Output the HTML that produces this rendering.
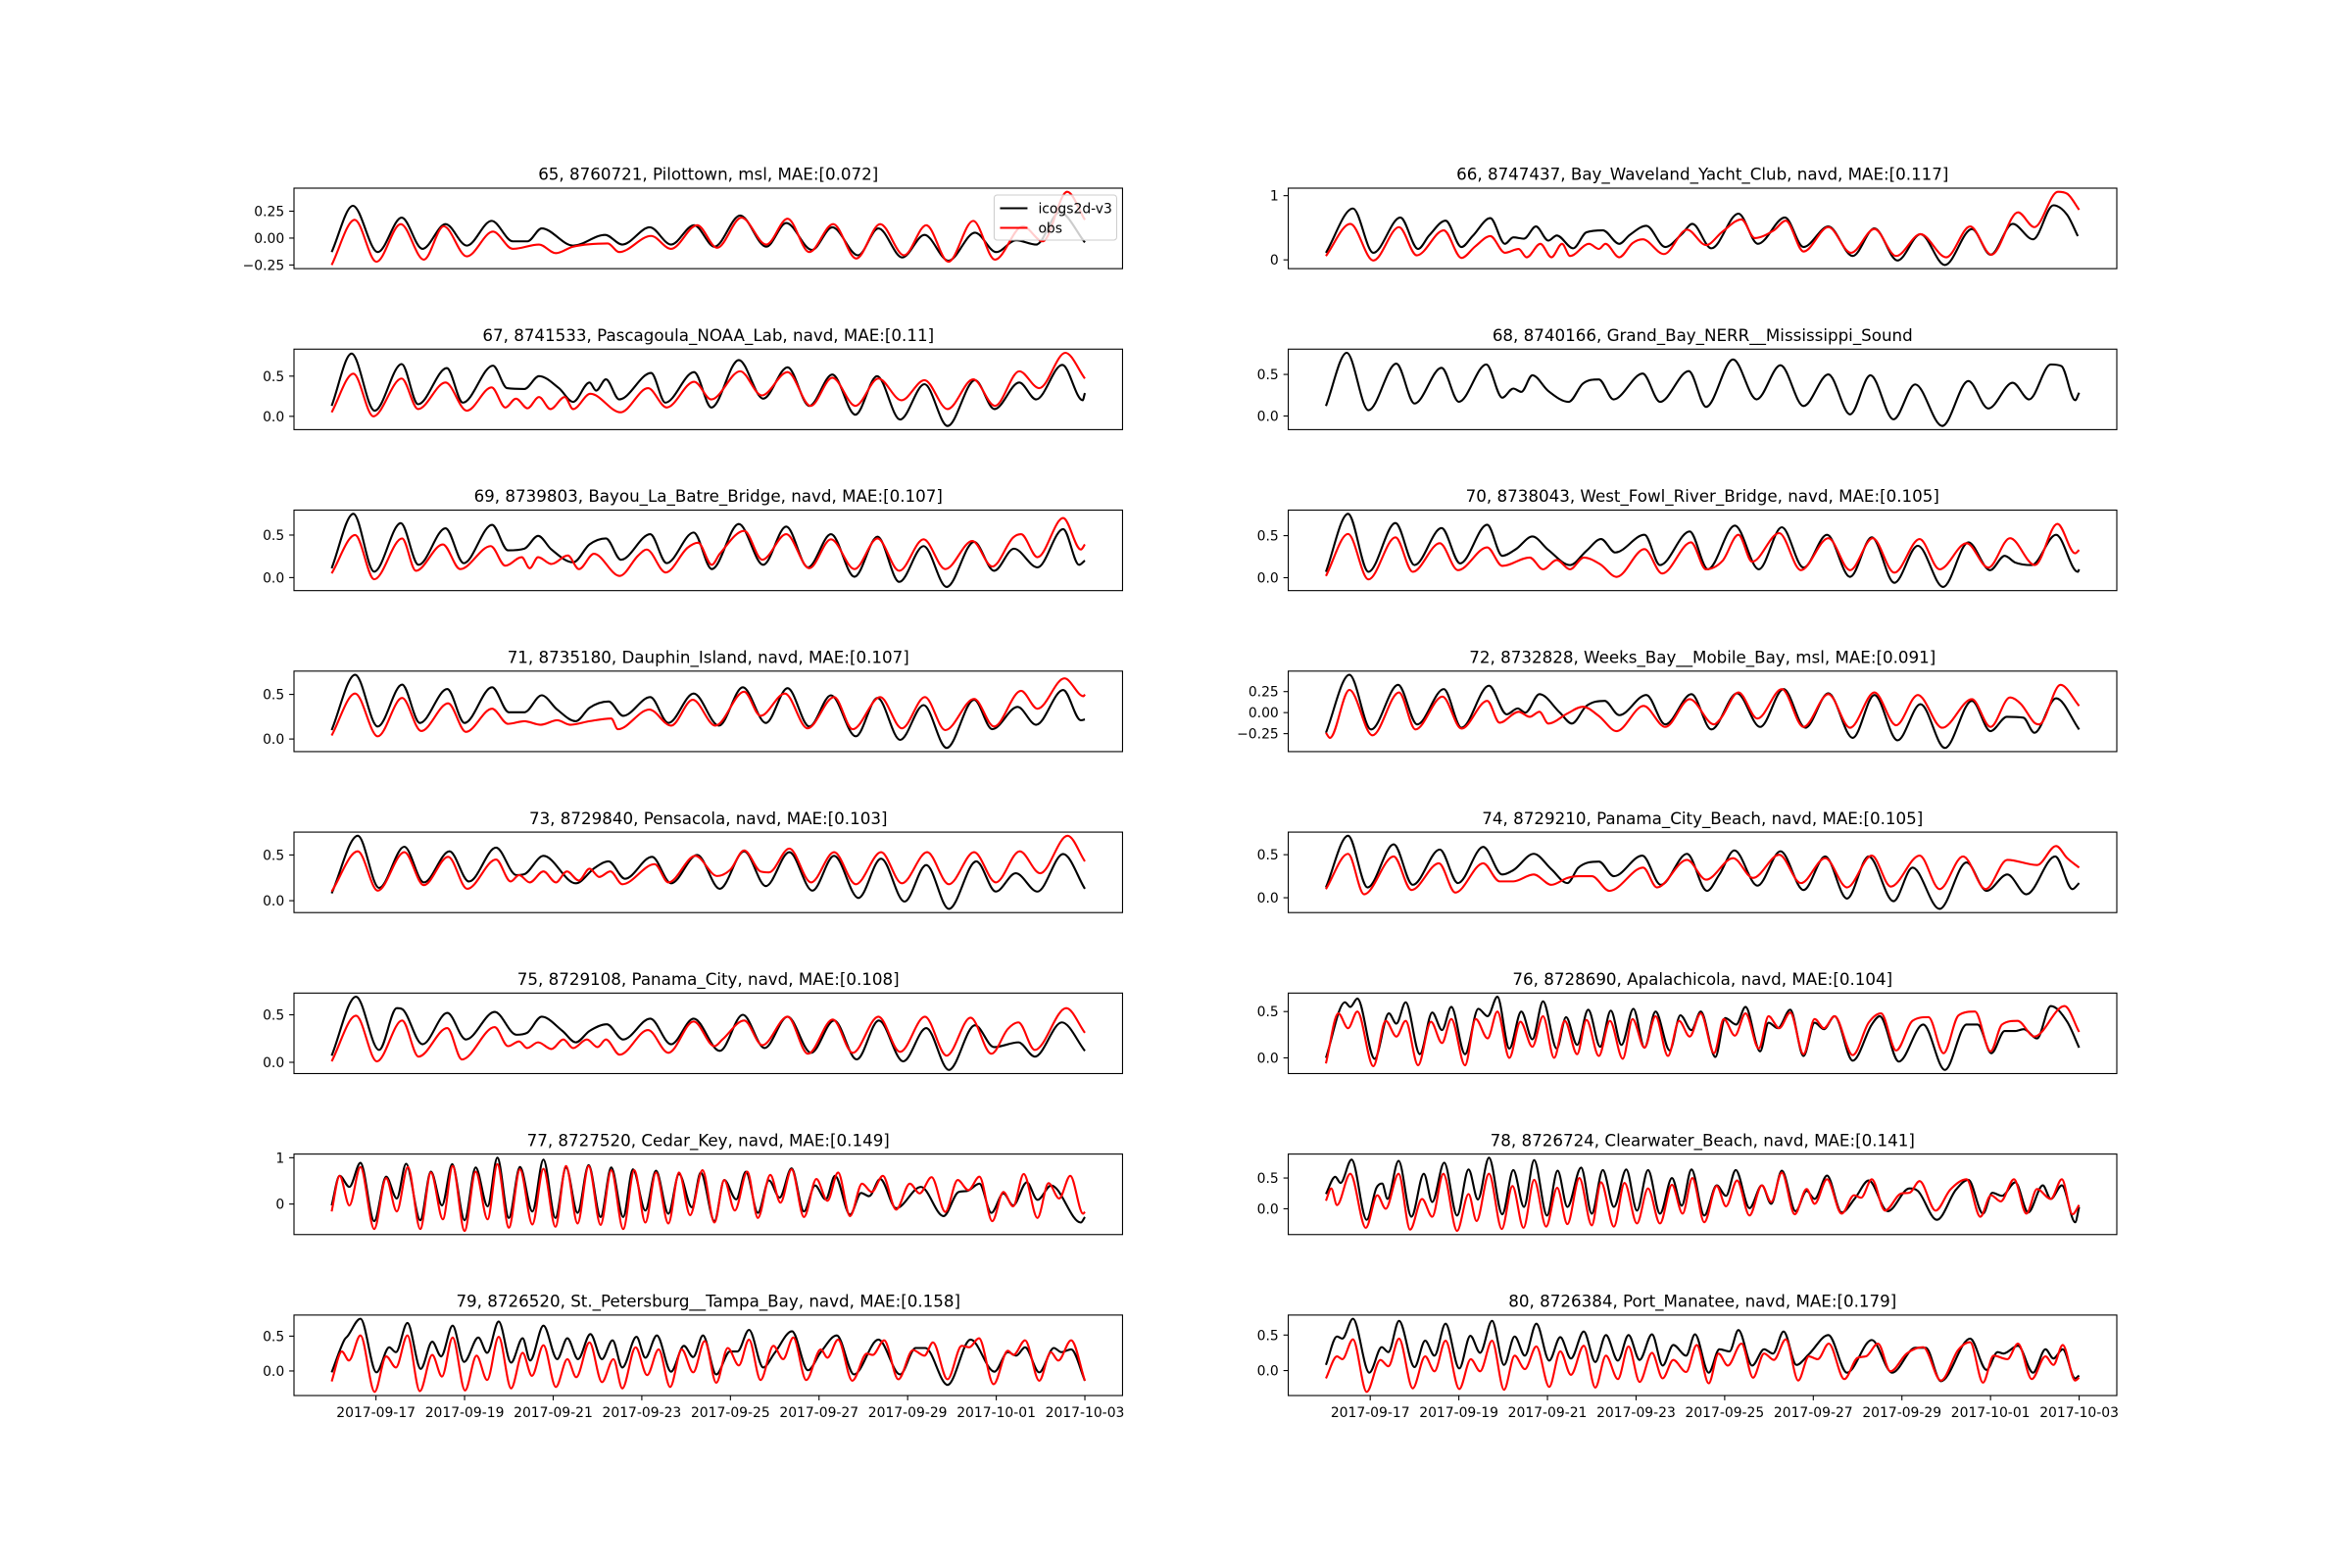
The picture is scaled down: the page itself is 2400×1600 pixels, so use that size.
<!DOCTYPE html>
<html><head><meta charset="utf-8"><title>Water level comparison</title>
<style>
html,body{margin:0;padding:0;background:#fff;}
svg{display:block;font-family:"DejaVu Sans","Liberation Sans",sans-serif;}
</style></head>
<body>
<svg id="fig" width="2400" height="1600" viewBox="0 0 2400 1600" xmlns="http://www.w3.org/2000/svg">
<rect x="0" y="0" width="2400" height="1600" fill="#fff"/>
</svg>
<script>
// ---- data (time in days since 2017-09-16 00:00, values in metres) ----
const DATE_TICK_DAYS = [1,3,5,7,9,11,13,15,17];
const DATE_TICK_LABELS = ["2017-09-17","2017-09-19","2017-09-21","2017-09-23","2017-09-25","2017-09-27","2017-09-29","2017-10-01","2017-10-03"];

const P65_TITLE = "65, 8760721, Pilottown, msl, MAE:[0.072]";
const P65_YTICKS = [-0.25,0,0.25];
const P65_YLABELS = ["\u22120.25","0.00","0.25"];
const P65_MODEL_T = [0,0.48,1.04,1.58,2.05,2.57,3.05,3.61,4.09,4.42,4.74,5.45,6.17,6.56,7.18,7.66,8.18,8.64,9.22,9.81,10.26,10.84,11.3,11.88,12.34,12.88,13.38,13.92,14.52,15.0,15.45,15.9,16.43,17];
const P65_MODEL_V = [-0.13,0.30,-0.13,0.19,-0.10,0.13,-0.07,0.16,-0.03,-0.03,0.09,-0.07,0.03,-0.06,0.10,-0.06,0.12,-0.08,0.21,-0.08,0.14,-0.11,0.10,-0.16,0.09,-0.18,0.03,-0.21,0.05,-0.13,-0.02,-0.06,0.24,-0.04];
const P65_OBS_T = [0,0.52,1.01,1.56,2.08,2.53,3.05,3.64,4.09,4.68,5.06,5.45,6.23,6.49,7.21,7.66,8.25,8.7,9.25,9.81,10.29,10.78,11.32,11.84,12.38,12.92,13.42,13.92,14.48,14.97,15.6,16.05,16.6,17];
const P65_OBS_V = [-0.25,0.17,-0.22,0.13,-0.20,0.11,-0.17,0.06,-0.10,-0.06,-0.14,-0.08,-0.05,-0.13,0.02,-0.10,0.12,-0.09,0.19,-0.06,0.18,-0.13,0.13,-0.19,0.13,-0.16,0.12,-0.22,0.16,-0.20,0.11,-0.03,0.43,0.17];

const P66_TITLE = "66, 8747437, Bay_Waveland_Yacht_Club, navd, MAE:[0.117]";
const P66_YTICKS = [0,1];
const P66_YLABELS = ["0","1"];
const P66_MODEL_T = [0,0.61,1.07,1.68,2.08,2.33,2.7,3.06,3.31,3.71,4.04,4.23,4.47,4.74,5.02,5.21,5.58,5.88,6.25,6.62,6.86,7.23,7.66,8.03,8.27,8.7,9.31,9.75,10.36,10.78,11.34,11.89,12.38,12.9,13.42,13.97,14.58,15.0,15.5,15.96,16.42,16.73,16.97];
const P66_MODEL_V = [0.11,0.80,0.11,0.66,0.17,0.38,0.61,0.20,0.37,0.65,0.25,0.35,0.33,0.52,0.30,0.38,0.18,0.43,0.46,0.25,0.39,0.53,0.20,0.40,0.56,0.18,0.72,0.25,0.66,0.20,0.52,0.06,0.49,-0.01,0.40,-0.08,0.48,0.08,0.56,0.32,0.85,0.70,0.37];
const P66_OBS_T = [0,0.55,1.07,1.65,2.05,2.66,3.06,3.37,3.71,4.04,4.35,4.53,4.84,5.09,5.33,5.51,5.94,6.16,6.31,6.62,6.92,7.15,7.63,8.15,8.58,8.95,9.38,9.68,10.11,10.38,10.78,11.34,11.85,12.38,12.87,13.42,14.0,14.54,15.02,15.62,15.99,16.52,16.73,17];
const P66_OBS_V = [0.06,0.56,-0.01,0.51,0.07,0.46,0.03,0.21,0.37,0.11,0.17,0.04,0.25,0.04,0.25,0.06,0.25,0.17,0.25,0.04,0.26,0.32,0.09,0.47,0.23,0.44,0.63,0.34,0.46,0.61,0.13,0.51,0.11,0.48,0.06,0.40,0.04,0.52,0.08,0.74,0.51,1.06,1.03,0.78];

const P67_TITLE = "67, 8741533, Pascagoula_NOAA_Lab, navd, MAE:[0.11]";
const P67_YTICKS = [0,0.5];
const P67_YLABELS = ["0.0","0.5"];
const P67_MODEL_T = [0,0.45,0.97,1.58,1.95,2.6,2.96,3.64,3.96,4.35,4.68,5.13,5.45,5.82,5.97,6.19,6.49,7.21,7.53,8.18,8.57,9.19,9.74,10.29,10.78,11.3,11.82,12.31,12.83,13.38,13.9,14.52,14.96,15.52,15.9,16.49,16.95,17];
const P67_MODEL_V = [0.13,0.78,0.07,0.65,0.15,0.60,0.17,0.63,0.35,0.34,0.50,0.35,0.18,0.42,0.32,0.46,0.21,0.54,0.17,0.55,0.11,0.70,0.22,0.61,0.13,0.52,0.02,0.50,-0.04,0.40,-0.12,0.45,0.09,0.42,0.21,0.64,0.20,0.29];
const P67_OBS_T = [0,0.49,0.94,1.58,1.95,2.57,3.05,3.61,3.92,4.16,4.42,4.68,4.94,5.26,5.45,5.84,6.52,7.14,7.56,8.18,8.57,9.22,9.71,10.29,10.81,11.3,11.82,12.34,12.86,13.38,13.9,14.48,14.97,15.52,15.97,16.56,17];
const P67_OBS_V = [0.05,0.53,0.0,0.47,0.09,0.42,0.07,0.36,0.11,0.22,0.10,0.24,0.09,0.24,0.09,0.28,0.05,0.35,0.11,0.43,0.21,0.56,0.26,0.55,0.13,0.48,0.13,0.47,0.20,0.45,0.09,0.46,0.13,0.56,0.35,0.79,0.47];

const P68_TITLE = "68, 8740166, Grand_Bay_NERR__Mississippi_Sound";
const P68_YTICKS = [0,0.5];
const P68_YLABELS = ["0.0","0.5"];
const P68_MODEL_T = [0,0.47,0.96,1.59,2.0,2.61,3.0,3.62,3.98,4.23,4.41,4.66,5.02,5.48,5.8,6.16,6.49,7.15,7.54,8.19,8.58,9.19,9.72,10.26,10.78,11.34,11.83,12.29,12.81,13.3,13.91,14.5,14.95,15.5,15.87,16.36,16.6,16.91,17];
const P68_MODEL_V = [0.12,0.76,0.07,0.63,0.15,0.58,0.17,0.62,0.22,0.33,0.29,0.49,0.30,0.17,0.39,0.44,0.20,0.51,0.17,0.54,0.11,0.68,0.20,0.61,0.12,0.50,0.02,0.49,-0.04,0.38,-0.12,0.42,0.09,0.40,0.20,0.62,0.60,0.19,0.28];
const P68_OBS_T = [];
const P68_OBS_V = [];

const P69_TITLE = "69, 8739803, Bayou_La_Batre_Bridge, navd, MAE:[0.107]";
const P69_YTICKS = [0,0.5];
const P69_YLABELS = ["0.0","0.5"];
const P69_MODEL_T = [0,0.49,0.96,1.56,1.96,2.57,2.98,3.62,3.98,4.35,4.66,4.96,5.45,5.82,6.19,6.53,7.19,7.56,8.17,8.58,9.19,9.74,10.26,10.75,11.27,11.8,12.32,12.81,13.36,13.88,14.5,14.95,15.4,15.93,16.51,16.87,17];
const P69_MODEL_V = [0.11,0.75,0.07,0.64,0.15,0.58,0.17,0.62,0.32,0.34,0.49,0.33,0.18,0.39,0.46,0.21,0.51,0.17,0.53,0.10,0.63,0.15,0.60,0.12,0.51,0.01,0.48,-0.05,0.37,-0.11,0.42,0.08,0.34,0.12,0.57,0.15,0.20];
const P69_OBS_T = [0,0.53,0.96,1.59,1.9,2.51,2.9,3.59,3.92,4.29,4.47,4.66,4.96,5.33,5.58,5.92,6.5,6.92,7.11,7.54,8.03,8.27,8.58,8.76,9.31,9.72,10.26,10.78,11.27,11.8,12.32,12.81,13.36,13.85,14.46,14.91,15.38,15.56,15.93,16.51,16.91,17];
const P69_OBS_V = [0.05,0.50,-0.02,0.46,0.08,0.39,0.10,0.37,0.14,0.24,0.11,0.24,0.16,0.26,0.10,0.28,0.02,0.26,0.33,0.06,0.35,0.41,0.15,0.28,0.55,0.21,0.51,0.11,0.45,0.10,0.46,0.08,0.45,0.10,0.43,0.13,0.47,0.51,0.24,0.70,0.33,0.39];

const P70_TITLE = "70, 8738043, West_Fowl_River_Bridge, navd, MAE:[0.105]";
const P70_YTICKS = [0,0.5];
const P70_YLABELS = ["0.0","0.5"];
const P70_MODEL_T = [0,0.5,0.96,1.57,2.0,2.61,3.03,3.64,3.98,4.29,4.66,5.02,5.51,5.88,6.21,6.53,7.19,7.54,8.21,8.62,9.23,9.77,10.29,10.78,11.31,11.83,12.32,12.83,13.36,13.93,14.5,14.99,15.32,15.56,15.93,16.48,16.97,17];
const P70_MODEL_V = [0.07,0.76,0.07,0.65,0.15,0.59,0.17,0.63,0.26,0.34,0.49,0.33,0.15,0.32,0.46,0.30,0.51,0.15,0.55,0.10,0.62,0.10,0.60,0.12,0.51,0.01,0.48,-0.06,0.38,-0.11,0.42,0.09,0.26,0.18,0.15,0.51,0.07,0.10];
const P70_OBS_T = [0,0.5,0.96,1.57,1.96,2.57,2.98,3.64,3.98,4.6,4.9,5.21,5.51,5.82,6.19,6.56,7.19,7.59,8.24,8.58,8.95,9.31,9.62,10.23,10.72,11.34,11.83,12.34,12.83,13.4,13.85,14.46,14.95,15.44,16.0,16.51,16.91,17];
const P70_OBS_V = [0.02,0.52,-0.02,0.48,0.07,0.41,0.09,0.36,0.14,0.24,0.10,0.21,0.10,0.24,0.16,0.01,0.34,0.05,0.42,0.10,0.20,0.51,0.19,0.53,0.09,0.47,0.09,0.47,0.06,0.46,0.10,0.41,0.12,0.47,0.15,0.64,0.29,0.33];

const P71_TITLE = "71, 8735180, Dauphin_Island, navd, MAE:[0.107]";
const P71_YTICKS = [0,0.5];
const P71_YLABELS = ["0.0","0.5"];
const P71_MODEL_T = [0,0.53,1.04,1.59,1.99,2.61,3.0,3.62,4.0,4.35,4.74,5.09,5.51,5.82,6.25,6.58,7.19,7.6,8.17,8.74,9.28,9.8,10.29,10.78,11.27,11.83,12.32,12.83,13.36,13.88,14.5,14.91,15.48,15.9,16.51,16.91,17];
const P71_MODEL_V = [0.10,0.72,0.14,0.61,0.18,0.56,0.18,0.58,0.30,0.30,0.49,0.33,0.20,0.35,0.42,0.26,0.47,0.18,0.51,0.15,0.58,0.18,0.57,0.14,0.49,0.03,0.46,-0.01,0.38,-0.10,0.44,0.11,0.36,0.16,0.55,0.21,0.22];
const P71_OBS_T = [0,0.53,1.04,1.59,2.02,2.63,3.03,3.62,3.98,4.35,4.72,5.09,5.39,5.82,6.31,6.46,7.17,7.66,8.15,8.66,9.31,9.68,10.23,10.74,11.34,11.76,12.38,12.87,13.39,13.85,14.5,14.95,15.56,15.93,16.54,16.97,17];
const P71_OBS_V = [0.04,0.51,0.03,0.46,0.09,0.40,0.08,0.34,0.17,0.20,0.16,0.21,0.16,0.20,0.23,0.11,0.33,0.15,0.44,0.15,0.53,0.26,0.51,0.12,0.47,0.11,0.47,0.12,0.47,0.10,0.45,0.14,0.54,0.34,0.68,0.48,0.50];

const P72_TITLE = "72, 8732828, Weeks_Bay__Mobile_Bay, msl, MAE:[0.091]";
const P72_YTICKS = [-0.25,0,0.25];
const P72_YLABELS = ["\u22120.25","0.00","0.25"];
const P72_MODEL_T = [0,0.53,1.02,1.63,2.06,2.66,3.06,3.68,4.08,4.33,4.5,4.82,5.28,5.55,5.88,6.29,6.62,7.23,7.66,8.25,8.7,9.28,9.8,10.33,10.82,11.34,11.89,12.38,12.9,13.42,13.97,14.58,15.0,15.37,15.74,15.99,16.48,17];
const P72_MODEL_V = [-0.24,0.45,-0.20,0.33,-0.14,0.28,-0.18,0.32,-0.02,0.05,0.0,0.22,0.0,-0.13,0.08,0.14,-0.03,0.21,-0.14,0.22,-0.20,0.23,-0.17,0.28,-0.18,0.23,-0.30,0.21,-0.33,0.10,-0.42,0.14,-0.22,-0.05,-0.06,-0.24,0.17,-0.20];
const P72_OBS_T = [0,0.09,0.53,1.05,1.65,2.02,2.63,3.06,3.64,3.92,4.35,4.6,4.82,5.02,5.45,5.8,6.16,6.56,7.17,7.66,8.21,8.76,8.91,9.31,9.74,10.29,10.78,11.34,11.83,12.38,12.87,13.36,13.91,14.58,15.0,15.44,15.69,15.99,16.1,16.58,17];
const P72_OBS_V = [-0.24,-0.30,0.27,-0.27,0.24,-0.20,0.19,-0.19,0.14,-0.12,0.01,-0.05,0.01,-0.13,-0.01,0.07,-0.04,-0.22,0.08,-0.17,0.16,-0.14,-0.07,0.24,-0.07,0.28,-0.17,0.22,-0.18,0.24,-0.15,0.21,-0.18,0.16,-0.17,0.18,0.10,-0.12,-0.14,0.33,0.08];

const P73_TITLE = "73, 8729840, Pensacola, navd, MAE:[0.103]";
const P73_YTICKS = [0,0.5];
const P73_YLABELS = ["0.0","0.5"];
const P73_MODEL_T = [0,0.59,1.07,1.64,2.08,2.66,3.1,3.71,4.17,4.35,4.78,5.51,5.94,6.25,6.62,7.23,7.66,8.25,8.76,9.31,9.8,10.33,10.85,11.34,11.89,12.4,12.93,13.42,13.93,14.55,14.99,15.44,15.93,16.51,17];
const P73_MODEL_V = [0.08,0.71,0.14,0.59,0.20,0.54,0.21,0.58,0.28,0.29,0.49,0.19,0.36,0.43,0.24,0.48,0.19,0.50,0.13,0.54,0.16,0.53,0.11,0.49,0.03,0.46,-0.01,0.39,-0.09,0.43,0.10,0.30,0.10,0.51,0.13];
const P73_OBS_T = [0,0.59,1.04,1.64,2.08,2.63,3.06,3.71,4.04,4.23,4.47,4.78,5.06,5.31,5.58,5.82,6.04,6.29,6.56,7.29,7.6,8.21,8.7,9.0,9.31,9.68,9.87,10.33,10.82,11.34,11.83,12.4,12.87,13.44,13.93,14.5,14.99,15.53,15.99,16.61,17];
const P73_OBS_V = [0.10,0.54,0.11,0.53,0.17,0.48,0.13,0.45,0.21,0.28,0.20,0.32,0.20,0.32,0.22,0.35,0.26,0.32,0.18,0.40,0.20,0.49,0.27,0.34,0.55,0.32,0.31,0.57,0.20,0.53,0.18,0.53,0.19,0.53,0.18,0.53,0.20,0.54,0.30,0.71,0.43];

const P74_TITLE = "74, 8729210, Panama_City_Beach, navd, MAE:[0.105]";
const P74_YTICKS = [0,0.5];
const P74_YLABELS = ["0.0","0.5"];
const P74_MODEL_T = [0,0.5,0.94,1.53,1.96,2.57,2.98,3.55,3.98,4.23,4.69,5.09,5.45,5.7,6.16,6.5,7.14,7.56,8.15,8.6,8.88,9.22,9.74,10.26,10.78,11.27,11.76,12.25,12.81,13.24,13.85,14.46,14.91,15.38,15.81,16.46,16.85,17];
const P74_MODEL_V = [0.12,0.72,0.12,0.62,0.15,0.56,0.17,0.59,0.27,0.32,0.51,0.33,0.17,0.35,0.42,0.25,0.49,0.15,0.51,0.08,0.27,0.55,0.14,0.54,0.09,0.48,-0.01,0.48,-0.04,0.35,-0.13,0.41,0.08,0.27,0.04,0.48,0.10,0.17];
const P74_OBS_T = [0,0.5,0.86,1.53,1.93,2.55,2.92,3.55,3.92,4.23,4.69,5.09,5.45,5.7,6.0,6.4,7.16,7.47,8.15,8.58,9.19,9.64,10.23,10.72,11.27,11.76,12.32,12.75,13.4,13.85,14.38,14.89,15.38,16.05,16.48,16.73,17];
const P74_OBS_V = [0.10,0.51,0.04,0.48,0.09,0.40,0.06,0.40,0.19,0.19,0.27,0.15,0.23,0.25,0.25,0.08,0.35,0.12,0.44,0.21,0.46,0.23,0.50,0.17,0.46,0.12,0.49,0.13,0.49,0.10,0.48,0.10,0.44,0.38,0.60,0.46,0.35];

const P75_TITLE = "75, 8729108, Panama_City, navd, MAE:[0.108]";
const P75_YTICKS = [0,0.5];
const P75_YLABELS = ["0.0","0.5"];
const P75_MODEL_T = [0,0.55,1.07,1.47,1.59,2.05,2.61,3.03,3.68,4.17,4.41,4.74,5.21,5.51,5.82,6.21,6.58,7.19,7.66,8.17,8.76,9.28,9.77,10.29,10.82,11.34,11.85,12.35,12.9,13.42,13.93,14.52,14.95,15.5,15.87,16.48,17];
const P75_MODEL_V = [0.07,0.69,0.13,0.57,0.56,0.19,0.52,0.24,0.53,0.29,0.31,0.48,0.33,0.21,0.33,0.40,0.24,0.46,0.19,0.46,0.12,0.50,0.15,0.48,0.10,0.44,0.03,0.44,0.01,0.36,-0.08,0.39,0.16,0.21,0.06,0.42,0.12];
const P75_OBS_T = [0,0.55,1.02,1.59,1.96,2.61,2.94,3.68,3.98,4.23,4.41,4.66,4.96,5.23,5.45,5.76,6.0,6.19,6.5,7.14,7.6,8.17,8.64,8.82,9.31,9.72,10.29,10.75,11.31,11.76,12.34,12.83,13.39,13.88,14.42,14.89,15.26,15.5,15.87,16.58,17];
const P75_OBS_V = [0.01,0.49,0.01,0.44,0.06,0.36,0.03,0.37,0.17,0.22,0.15,0.21,0.14,0.24,0.15,0.24,0.16,0.24,0.08,0.34,0.10,0.43,0.17,0.24,0.44,0.18,0.48,0.09,0.45,0.10,0.48,0.11,0.48,0.07,0.47,0.09,0.35,0.42,0.13,0.57,0.31];

const P76_TITLE = "76, 8728690, Apalachicola, navd, MAE:[0.104]";
const P76_YTICKS = [0,0.5];
const P76_YLABELS = ["0.0","0.5"];
const P76_MODEL_T = [0,0.43,0.55,0.71,1.1,1.42,1.59,1.8,2.12,2.4,2.62,2.83,3.14,3.44,3.65,3.87,4.14,4.41,4.66,4.9,5.21,5.42,5.67,5.92,6.19,6.43,6.67,6.94,7.19,7.44,7.76,8.0,8.25,8.46,8.79,9.01,9.26,9.47,9.8,9.99,10.2,10.48,10.78,11.03,11.24,11.48,11.89,12.32,12.5,12.93,13.48,13.97,14.46,14.71,15.02,15.32,15.56,15.75,16.05,16.36,16.73,17];
const P76_MODEL_V = [0.0,0.60,0.55,0.64,-0.01,0.48,0.37,0.60,0.04,0.49,0.30,0.55,0.04,0.53,0.45,0.66,0.10,0.50,0.20,0.61,0.10,0.44,0.14,0.52,0.12,0.51,0.14,0.53,0.11,0.50,0.08,0.46,0.30,0.50,0.01,0.43,0.36,0.55,0.07,0.38,0.32,0.52,0.02,0.38,0.31,0.45,-0.03,0.36,0.45,-0.04,0.36,-0.13,0.36,0.36,0.05,0.29,0.29,0.31,0.21,0.56,0.39,0.11];
const P76_OBS_T = [0,0.28,0.5,0.71,1.07,1.35,1.59,1.8,2.08,2.37,2.62,2.83,3.14,3.38,3.65,3.87,4.14,4.39,4.66,4.9,5.15,5.39,5.67,5.88,6.16,6.41,6.7,6.92,7.19,7.44,7.72,7.97,8.21,8.46,8.76,8.98,9.23,9.47,9.77,9.99,10.23,10.48,10.78,11.03,11.24,11.48,11.89,12.25,12.53,12.87,13.24,13.6,13.94,14.28,14.65,15.0,15.26,15.61,15.99,16.67,17];
const P76_OBS_V = [-0.06,0.48,0.32,0.50,-0.09,0.40,0.23,0.40,-0.08,0.39,0.16,0.42,-0.08,0.42,0.21,0.50,0.0,0.39,0.12,0.45,0.0,0.40,0.04,0.41,0.02,0.40,-0.01,0.42,0.11,0.45,0.02,0.40,0.23,0.48,0.05,0.42,0.24,0.48,0.10,0.45,0.32,0.49,0.04,0.42,0.32,0.45,0.03,0.38,0.48,0.08,0.40,0.44,0.05,0.46,0.50,0.07,0.36,0.40,0.23,0.56,0.28];

const P77_TITLE = "77, 8727520, Cedar_Key, navd, MAE:[0.149]";
const P77_YTICKS = [0,1];
const P77_YLABELS = ["0","1"];
const P77_MODEL_T = [0,0.18,0.4,0.65,0.96,1.23,1.47,1.68,2.0,2.24,2.49,2.72,3.0,3.25,3.52,3.74,4.0,4.25,4.53,4.78,5.05,5.29,5.55,5.8,6.07,6.31,6.58,6.8,7.08,7.32,7.6,7.84,8.13,8.33,8.64,8.86,9.13,9.35,9.62,9.87,10.11,10.38,10.66,10.91,11.15,11.36,11.7,11.95,12.13,12.38,12.74,13.3,13.81,14.15,14.34,14.62,14.89,15.16,15.38,15.69,15.93,16.24,16.91,17];
const P77_MODEL_V = [-0.03,0.61,0.37,0.89,-0.37,0.59,0.12,0.87,-0.35,0.70,-0.03,0.86,-0.35,0.79,-0.05,1.0,-0.30,0.80,-0.16,0.96,-0.30,0.79,-0.19,0.84,-0.28,0.79,-0.28,0.75,-0.14,0.72,-0.21,0.65,-0.07,0.68,-0.37,0.52,0.10,0.70,-0.19,0.51,0.14,0.77,-0.16,0.40,0.10,0.61,-0.23,0.24,0.17,0.54,-0.09,0.37,-0.26,0.26,0.28,0.44,-0.19,0.23,-0.03,0.47,0.09,0.40,-0.40,-0.28];
const P77_OBS_T = [0,0.18,0.4,0.65,0.96,1.23,1.47,1.72,2.0,2.24,2.51,2.73,3.0,3.25,3.52,3.74,4.0,4.25,4.53,4.78,5.05,5.29,5.55,5.8,6.07,6.31,6.58,6.83,7.08,7.32,7.6,7.84,8.09,8.37,8.64,8.86,9.1,9.38,9.62,9.9,10.13,10.38,10.66,10.94,11.19,11.43,11.7,11.97,12.19,12.44,12.74,13.05,13.27,13.54,13.85,14.13,14.37,14.62,14.91,15.16,15.38,15.62,15.93,16.18,16.42,16.67,16.96,17];
const P77_OBS_V = [-0.16,0.61,-0.03,0.80,-0.54,0.56,-0.16,0.80,-0.54,0.68,-0.33,0.82,-0.58,0.70,-0.33,0.86,-0.51,0.75,-0.44,0.76,-0.49,0.82,-0.42,0.82,-0.45,0.73,-0.54,0.73,-0.40,0.68,-0.42,0.68,-0.24,0.73,-0.40,0.52,-0.14,0.70,-0.30,0.63,0.03,0.75,-0.28,0.54,0.07,0.68,-0.26,0.44,0.26,0.61,-0.12,0.44,0.23,0.58,-0.17,0.52,0.30,0.59,-0.37,0.26,-0.05,0.65,-0.30,0.45,0.12,0.61,-0.21,-0.17];

const P78_TITLE = "78, 8726724, Clearwater_Beach, navd, MAE:[0.141]";
const P78_YTICKS = [0,0.5];
const P78_YLABELS = ["0.0","0.5"];
const P78_MODEL_T = [0,0.21,0.33,0.58,0.92,1.14,1.27,1.39,1.64,1.93,2.21,2.4,2.67,2.96,3.22,3.43,3.68,3.98,4.23,4.47,4.7,4.99,5.23,5.45,5.76,6.0,6.25,6.5,6.78,7.02,7.27,7.54,7.81,8.03,8.25,8.54,8.82,9.03,9.25,9.56,9.84,10.05,10.29,10.6,10.85,11.03,11.31,11.64,11.95,12.25,12.68,13.17,13.36,13.79,14.22,14.5,14.83,15.04,15.26,15.56,15.85,16.18,16.36,16.61,16.91,17];
const P78_MODEL_V = [0.24,0.52,0.42,0.80,-0.18,0.34,0.41,0.16,0.78,-0.13,0.57,0.11,0.75,-0.11,0.64,0.15,0.83,-0.09,0.63,0.03,0.79,-0.11,0.62,0.03,0.67,-0.08,0.63,0.03,0.64,-0.03,0.63,-0.08,0.50,0.05,0.64,-0.11,0.38,0.21,0.63,0.01,0.38,0.08,0.62,-0.04,0.29,0.16,0.54,-0.06,0.18,0.46,-0.04,0.33,0.29,-0.18,0.31,0.47,-0.08,0.26,0.21,0.43,-0.06,0.38,0.16,0.38,-0.22,0.03];
const P78_OBS_T = [0,0.12,0.25,0.55,0.9,1.16,1.35,1.64,1.9,2.17,2.4,2.65,2.96,3.22,3.4,3.68,3.97,4.21,4.46,4.7,4.97,5.22,5.45,5.72,6.0,6.21,6.5,6.74,7.02,7.27,7.54,7.81,8.05,8.27,8.54,8.82,9.03,9.28,9.56,9.84,10.05,10.29,10.58,10.85,11.03,11.31,11.64,11.92,12.08,12.32,12.62,12.99,13.17,13.4,13.76,14.09,14.46,14.77,15.01,15.23,15.53,15.81,16.05,16.36,16.61,16.85,17];
const P78_OBS_V = [0.13,0.33,0.06,0.57,-0.31,0.22,0.0,0.57,-0.34,0.16,-0.13,0.57,-0.36,0.24,-0.20,0.57,-0.33,0.37,-0.31,0.47,-0.29,0.34,-0.25,0.50,-0.27,0.43,-0.29,0.42,-0.24,0.33,-0.24,0.39,-0.08,0.50,-0.22,0.37,0.04,0.46,-0.11,0.38,0.11,0.59,-0.09,0.32,0.08,0.48,-0.08,0.22,0.18,0.48,-0.03,0.25,0.26,0.45,-0.03,0.31,0.48,-0.13,0.22,0.12,0.48,-0.08,0.32,0.16,0.48,-0.09,0.06];

const P79_TITLE = "79, 8726520, St._Petersburg__Tampa_Bay, navd, MAE:[0.158]";
const P79_YTICKS = [0,0.5];
const P79_YLABELS = ["0.0","0.5"];
const P79_MODEL_T = [0,0.29,0.36,0.65,1.01,1.3,1.45,1.71,2.01,2.27,2.47,2.73,2.99,3.31,3.51,3.77,4.05,4.31,4.48,4.78,5.09,5.32,5.56,5.84,6.1,6.34,6.56,6.88,7.08,7.34,7.66,7.95,8.16,8.38,8.68,8.99,9.16,9.42,9.74,10.0,10.39,10.75,11.04,11.4,11.79,12.34,12.83,13.18,13.4,13.9,14.42,14.96,15.26,15.45,15.65,15.97,16.3,16.47,16.69,17];
const P79_MODEL_V = [-0.02,0.45,0.50,0.75,-0.02,0.34,0.27,0.69,0.03,0.42,0.21,0.65,0.13,0.48,0.26,0.71,0.12,0.47,0.15,0.65,0.17,0.47,0.17,0.53,0.17,0.44,0.05,0.49,0.19,0.51,-0.01,0.36,0.20,0.51,-0.05,0.28,0.28,0.59,0.05,0.26,0.57,0.01,0.27,0.51,-0.05,0.45,-0.05,0.33,0.33,-0.20,0.45,-0.01,0.27,0.22,0.34,-0.02,0.33,0.27,0.31,-0.14];
const P79_OBS_T = [0,0.23,0.39,0.65,0.97,1.23,1.45,1.71,1.99,2.27,2.49,2.73,3.01,3.27,3.51,3.77,4.05,4.31,4.52,4.78,5.06,5.32,5.52,5.82,6.1,6.36,6.56,6.86,7.12,7.38,7.64,7.9,8.16,8.42,8.68,8.94,9.19,9.42,9.68,9.97,10.19,10.42,10.71,11.04,11.19,11.43,11.75,12.08,12.21,12.47,12.79,13.12,13.38,13.57,13.9,14.22,14.39,14.61,14.94,15.26,15.39,15.65,15.97,16.23,16.4,16.69,17];
const P79_OBS_V = [-0.15,0.28,0.15,0.51,-0.30,0.21,0.05,0.51,-0.29,0.23,-0.08,0.48,-0.28,0.22,-0.13,0.49,-0.25,0.26,-0.07,0.37,-0.23,0.17,-0.09,0.41,-0.16,0.17,-0.25,0.34,-0.06,0.31,-0.23,0.31,-0.02,0.43,-0.17,0.33,0.08,0.45,-0.13,0.36,0.17,0.48,-0.13,0.31,0.19,0.45,-0.14,0.25,0.23,0.44,-0.12,0.30,0.22,0.41,-0.12,0.36,0.34,0.47,-0.19,0.29,0.23,0.44,-0.14,0.27,0.15,0.44,-0.14];

const P80_TITLE = "80, 8726384, Port_Manatee, navd, MAE:[0.179]";
const P80_YTICKS = [0,0.5];
const P80_YLABELS = ["0.0","0.5"];
const P80_MODEL_T = [0,0.25,0.37,0.61,0.98,1.26,1.41,1.65,2.0,2.24,2.45,2.7,3.01,3.26,3.48,3.75,4.02,4.26,4.49,4.75,5.04,5.29,5.53,5.82,6.08,6.32,6.59,6.83,7.08,7.36,7.6,7.84,8.13,8.33,8.64,8.88,9.11,9.31,9.62,9.89,10.09,10.33,10.62,10.9,11.34,11.76,12.32,12.78,13.3,13.54,13.88,14.54,14.91,15.16,15.29,15.62,15.96,16.24,16.42,16.63,16.91,17];
const P80_MODEL_V = [0.08,0.48,0.45,0.73,-0.03,0.33,0.26,0.70,0.05,0.42,0.21,0.66,0.03,0.49,0.25,0.70,0.08,0.48,0.21,0.66,0.14,0.47,0.17,0.55,0.12,0.50,0.14,0.50,0.15,0.51,0.07,0.36,0.21,0.51,-0.03,0.30,0.27,0.57,0.07,0.30,0.24,0.55,0.08,0.23,0.50,-0.03,0.43,-0.03,0.32,0.32,-0.15,0.45,0.01,0.26,0.24,0.35,-0.03,0.30,0.17,0.30,-0.11,-0.07];
const P80_OBS_T = [0,0.25,0.37,0.61,0.92,1.23,1.41,1.65,1.96,2.24,2.45,2.7,3.01,3.27,3.48,3.75,4.02,4.26,4.49,4.75,5.04,5.29,5.53,5.82,6.08,6.32,6.59,6.83,7.08,7.36,7.6,7.84,8.13,8.37,8.64,8.86,9.07,9.38,9.64,9.89,10.11,10.38,10.66,10.9,11.1,11.35,11.7,12.0,12.19,12.46,12.74,13.11,13.48,13.88,14.27,14.54,14.83,15.07,15.38,15.62,15.93,16.24,16.42,16.63,16.91,17];
const P80_OBS_V = [-0.11,0.20,0.16,0.44,-0.30,0.15,0.06,0.45,-0.25,0.20,-0.01,0.42,-0.26,0.16,-0.01,0.42,-0.27,0.21,0.02,0.34,-0.23,0.27,-0.06,0.35,-0.24,0.21,-0.12,0.34,-0.16,0.25,-0.11,0.15,-0.02,0.36,-0.18,0.24,0.07,0.38,-0.10,0.24,0.15,0.44,-0.14,0.20,0.16,0.38,-0.12,0.18,0.20,0.38,-0.01,0.24,0.33,-0.14,0.29,0.40,-0.17,0.21,0.16,0.38,-0.12,0.20,0.08,0.36,-0.14,-0.10];

const PANELS = [
 [P65_TITLE,P65_YTICKS,P65_YLABELS,P65_MODEL_T,P65_MODEL_V,P65_OBS_T,P65_OBS_V,"pilottown"],
 [P66_TITLE,P66_YTICKS,P66_YLABELS,P66_MODEL_T,P66_MODEL_V,P66_OBS_T,P66_OBS_V,"bay-waveland"],
 [P67_TITLE,P67_YTICKS,P67_YLABELS,P67_MODEL_T,P67_MODEL_V,P67_OBS_T,P67_OBS_V,"pascagoula"],
 [P68_TITLE,P68_YTICKS,P68_YLABELS,P68_MODEL_T,P68_MODEL_V,P68_OBS_T,P68_OBS_V,"grand-bay"],
 [P69_TITLE,P69_YTICKS,P69_YLABELS,P69_MODEL_T,P69_MODEL_V,P69_OBS_T,P69_OBS_V,"bayou-la-batre"],
 [P70_TITLE,P70_YTICKS,P70_YLABELS,P70_MODEL_T,P70_MODEL_V,P70_OBS_T,P70_OBS_V,"west-fowl-river"],
 [P71_TITLE,P71_YTICKS,P71_YLABELS,P71_MODEL_T,P71_MODEL_V,P71_OBS_T,P71_OBS_V,"dauphin-island"],
 [P72_TITLE,P72_YTICKS,P72_YLABELS,P72_MODEL_T,P72_MODEL_V,P72_OBS_T,P72_OBS_V,"weeks-bay"],
 [P73_TITLE,P73_YTICKS,P73_YLABELS,P73_MODEL_T,P73_MODEL_V,P73_OBS_T,P73_OBS_V,"pensacola"],
 [P74_TITLE,P74_YTICKS,P74_YLABELS,P74_MODEL_T,P74_MODEL_V,P74_OBS_T,P74_OBS_V,"panama-city-beach"],
 [P75_TITLE,P75_YTICKS,P75_YLABELS,P75_MODEL_T,P75_MODEL_V,P75_OBS_T,P75_OBS_V,"panama-city"],
 [P76_TITLE,P76_YTICKS,P76_YLABELS,P76_MODEL_T,P76_MODEL_V,P76_OBS_T,P76_OBS_V,"apalachicola"],
 [P77_TITLE,P77_YTICKS,P77_YLABELS,P77_MODEL_T,P77_MODEL_V,P77_OBS_T,P77_OBS_V,"cedar-key"],
 [P78_TITLE,P78_YTICKS,P78_YLABELS,P78_MODEL_T,P78_MODEL_V,P78_OBS_T,P78_OBS_V,"clearwater-beach"],
 [P79_TITLE,P79_YTICKS,P79_YLABELS,P79_MODEL_T,P79_MODEL_V,P79_OBS_T,P79_OBS_V,"st-petersburg"],
 [P80_TITLE,P80_YTICKS,P80_YLABELS,P80_MODEL_T,P80_MODEL_V,P80_OBS_T,P80_OBS_V,"port-manatee"]
];

const NS = "http://www.w3.org/2000/svg";
const fig = document.getElementById("fig");
function mk(tag, attrs, parent){
  const e = document.createElementNS(NS, tag);
  for (const k in attrs) e.setAttribute(k, attrs[k]);
  (parent||fig).appendChild(e);
  return e;
}
function monotonePath(px, py){
  const n = Math.min(px.length, py.length);
  if (n < 2) return "";
  const d = [], m = new Array(n);
  for (let i=0;i<n-1;i++){ const dx = px[i+1]-px[i]; d.push(dx===0?0:(py[i+1]-py[i])/dx); }
  m[0]=d[0]; m[n-1]=d[n-2];
  for (let i=1;i<n-1;i++){ m[i] = (d[i-1]*d[i] <= 0) ? 0 : (d[i-1]+d[i])/2; }
  for (let i=0;i<n-1;i++){
    if (d[i]===0){ m[i]=0; m[i+1]=0; continue; }
    const a=m[i]/d[i], b=m[i+1]/d[i], s=a*a+b*b;
    if (s>9){ const t=3/Math.sqrt(s); m[i]=t*a*d[i]; m[i+1]=t*b*d[i]; }
  }
  let p = "M"+px[0].toFixed(2)+","+py[0].toFixed(2);
  for (let i=0;i<n-1;i++){
    const h=(px[i+1]-px[i])/3;
    p += " C"+(px[i]+h).toFixed(2)+","+(py[i]+m[i]*h).toFixed(2)+" "+(px[i+1]-h).toFixed(2)+","+(py[i+1]-m[i+1]*h).toFixed(2)+" "+px[i+1].toFixed(2)+","+py[i+1].toFixed(2);
  }
  return p;
}

const AX_W = 845.45, AX_H = 82.13, COL_X = [300, 1314.55], ROW0 = 192, ROW_STEP = 164.27;
const TMIN = 0, TMAX = 17;

PANELS.forEach((pn, idx) => {
  const [title, yt, yl, mt, mv, ot, ov, key] = pn;
  const col = idx % 2, row = Math.floor(idx/2);
  const x0 = COL_X[col], y0 = ROW0 + row*ROW_STEP;
  const g = mk("g", {});
  
  

  const all = mv.concat(ov);
  let vmin = Math.min(...all), vmax = Math.max(...all);
  const vr = vmax - vmin;
  vmin -= 0.05*vr; vmax += 0.05*vr;
  const tr = TMAX - TMIN;
  const xs = t => x0 + (t - (TMIN - 0.05*tr)) / (tr*1.1) * AX_W;
  const ys = v => y0 + AX_H - (v - vmin)/(vmax - vmin) * AX_H;

  const clipId = "clip" + idx;
  const cp = mk("clipPath", {id: clipId}, g);
  mk("rect", {x:x0, y:y0, width:AX_W, height:AX_H}, cp);

  const model = mk("path", {d: monotonePath(mt.map(xs), mv.map(ys)), fill:"none", stroke:"#000", "stroke-width":"2.1", "stroke-linejoin":"round", "clip-path":"url(#"+clipId+")"}, g);
  
  
  if (ot.length){
    const obs = mk("path", {d: monotonePath(ot.map(xs), ov.map(ys)), fill:"none", stroke:"#ff0000", "stroke-width":"2.1", "stroke-linejoin":"round", "clip-path":"url(#"+clipId+")"}, g);
    
    
  }

  const frame = mk("rect", {x:x0, y:y0, width:AX_W, height:AX_H, fill:"none", stroke:"#000", "stroke-width":"1.1"}, g);
  
  

  const tt = mk("text", {x:x0+AX_W/2, y:y0-8.3, "text-anchor":"middle", "font-size":"16.7", fill:"#000"}, g);
  tt.textContent = title;
  
  

  yt.forEach((v, i) => {
    const y = ys(v);
    const tk = mk("line", {x1:x0-4.9, x2:x0, y1:y, y2:y, stroke:"#000", "stroke-width":"1.1"}, g);
    
    
    const lb = mk("text", {x:x0-9.8, y:y+5, "text-anchor":"end", "font-size":"13.9", fill:"#000"}, g);
    lb.textContent = yl[i];
    
    
  });

  if (row === 7){
    DATE_TICK_DAYS.forEach((t, i) => {
      const x = xs(t);
      const tk = mk("line", {x1:x, x2:x, y1:y0+AX_H, y2:y0+AX_H+4.9, stroke:"#000", "stroke-width":"1.1"}, g);
      
      
      const lb = mk("text", {x:x, y:y0+AX_H+22, "text-anchor":"middle", "font-size":"13.9", fill:"#000"}, g);
      lb.textContent = DATE_TICK_LABELS[i];
      
      
    });
  }

  if (idx === 0){
    const lg = mk("g", {}, g);
    
    
    const bx = x0 + AX_W - 131, by = y0 + 7;
    mk("rect", {x:bx, y:by, width:125, height:46, rx:3, ry:3, fill:"#fff", "fill-opacity":"0.8", stroke:"#cccccc", "stroke-width":"1"}, lg);
    const l1 = mk("line", {x1:bx+6, x2:bx+34, y1:by+13.5, y2:by+13.5, stroke:"#000", "stroke-width":"2.1"}, lg);
    
    
    const t1 = mk("text", {x:bx+45, y:by+18.5, "font-size":"13.9", fill:"#000"}, lg);
    t1.textContent = "icogs2d-v3";
    
    
    const l2 = mk("line", {x1:bx+6, x2:bx+34, y1:by+33.5, y2:by+33.5, stroke:"#ff0000", "stroke-width":"2.1"}, lg);
    
    
    const t2 = mk("text", {x:bx+45, y:by+38.5, "font-size":"13.9", fill:"#000"}, lg);
    t2.textContent = "obs";
    
    
  }
});
</script>
</body></html>
